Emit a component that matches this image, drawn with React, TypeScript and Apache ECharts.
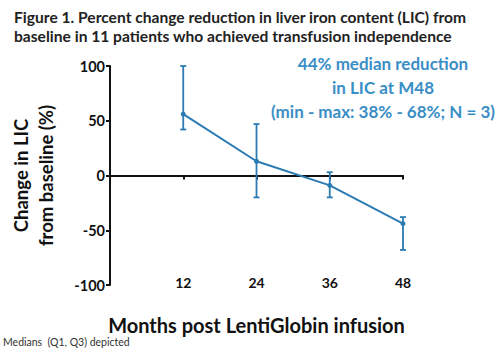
import React, { useEffect, useRef } from "react";
import * as echarts from "echarts";

const months = [12, 24, 36, 48];
const medians = [56, 13, -9, -44];
const q1 = [42, -20, -20, -68];
const q3 = [100, 47, 3, -38];
const yTicks = [-100, -50, 0, 50, 100];

const titleText =
  "Figure 1. Percent change reduction in liver iron content (LIC) from\nbaseline in 11 patients who achieved transfusion independence";
const noteText = "44% median reduction\nin LIC at M48\n(min - max: 38% - 68%; N = 3)";
const FONT = "Lato";
const BLUE = "#2b7bb3";

export default function App() {
  const ref = useRef<HTMLDivElement>(null);
  useEffect(() => {
    if (!ref.current) return;
    const chart = echarts.init(ref.current, undefined, { renderer: "svg" });
    const lineData = months.map((m, i) => [m, medians[i]]);
    const errData = months.map((m, i) => [m, q1[i], q3[i]]);
    chart.setOption({
      animation: false,
      backgroundColor: "#ffffff",
      textStyle: { fontFamily: FONT },
      title: [
        {
          text: titleText,
          left: 9,
          top: 2,
          textStyle: { fontFamily: FONT, fontSize: 15.6, fontWeight: "bold", color: "#222", lineHeight: 19.5 },
        },
        {
          text: noteText,
          left: 378,
          top: 46,
          textAlign: "center",
          textStyle: { fontFamily: FONT, fontSize: 17, fontWeight: "bold", color: "#3a8ec6", lineHeight: 24 },
        },
        {
          text: "Medians  (Q1, Q3) depicted",
          left: 3,
          top: 336,
          padding: 0,
          textStyle: { fontFamily: FONT, fontSize: 10.5, fontWeight: "normal", color: "#333", lineHeight: 12 },
        },
      ],
      grid: { left: 99, right: 92, top: 66, bottom: 68 },
      xAxis: [
        {
          type: "value",
          min: 0,
          max: 48,
          interval: 12,
          position: "bottom",
          axisLine: { show: false, onZero: false },
          axisTick: { show: false },
          splitLine: { show: false },
          axisLabel: {
            margin: -10,
            fontFamily: FONT,
            fontSize: 14,
            fontWeight: "bold",
            color: "#111",
            formatter: (v: number) => (v === 0 ? "" : String(v)),
          },
          name: "Months post LentiGlobin infusion",
          nameLocation: "middle",
          nameGap: 30,
          nameTextStyle: { fontFamily: FONT, fontSize: 20, fontWeight: "bold", color: "#111" },
        },
        {
          type: "value",
          min: 0,
          max: 48,
          interval: 12,
          position: "bottom",
          axisLine: { show: true, onZero: true, lineStyle: { color: "#111", width: 2 } },
          axisTick: { show: true, length: 4, lineStyle: { color: "#111", width: 2 } },
          axisLabel: { show: false },
          splitLine: { show: false },
        },
      ],
      yAxis: {
        type: "value",
        min: -100,
        max: 100,
        interval: 50,
        axisLine: { show: true, onZero: false, lineStyle: { color: "#111", width: 2 } },
        axisTick: { show: true, length: 4, lineStyle: { color: "#111", width: 2 } },
        splitLine: { show: false },
        axisLabel: {
          margin: 5,
          fontFamily: FONT,
          fontSize: 14.5,
          fontWeight: "bold",
          color: "#111",
          formatter: (v: number) => (yTicks.includes(v) ? String(v) : ""),
        },
        name: "Change in LIC\nfrom baseline (%)",
        nameLocation: "middle",
        nameGap: 52,
        nameRotate: 90,
        nameTextStyle: { fontFamily: FONT, fontSize: 18.5, fontWeight: "bold", color: "#111", lineHeight: 25 },
      },
      series: [
        {
          type: "custom",
          xAxisIndex: 0,
          data: errData,
          renderItem: (params: any, api: any) => {
            const x = api.value(0);
            const lo = api.coord([x, api.value(1)]);
            const hi = api.coord([x, api.value(2)]);
            const w = 3;
            const style = { stroke: BLUE, lineWidth: 1.8 };
            return {
              type: "group",
              children: [
                { type: "line", shape: { x1: lo[0], y1: lo[1], x2: hi[0], y2: hi[1] }, style },
                { type: "line", shape: { x1: lo[0] - w, y1: lo[1], x2: lo[0] + w, y2: lo[1] }, style },
                { type: "line", shape: { x1: hi[0] - w, y1: hi[1], x2: hi[0] + w, y2: hi[1] }, style },
              ],
            };
          },
          z: 3,
        },
        {
          type: "line",
          xAxisIndex: 0,
          data: lineData,
          symbol: "circle",
          symbolSize: 5,
          lineStyle: { color: BLUE, width: 2 },
          itemStyle: { color: BLUE },
          z: 4,
        },
      ],
    });
    return () => chart.dispose();
  }, []);
  return <div ref={ref} style={{ position: "absolute", left: 0, top: 0, width: 495, height: 353 }} />;
}
